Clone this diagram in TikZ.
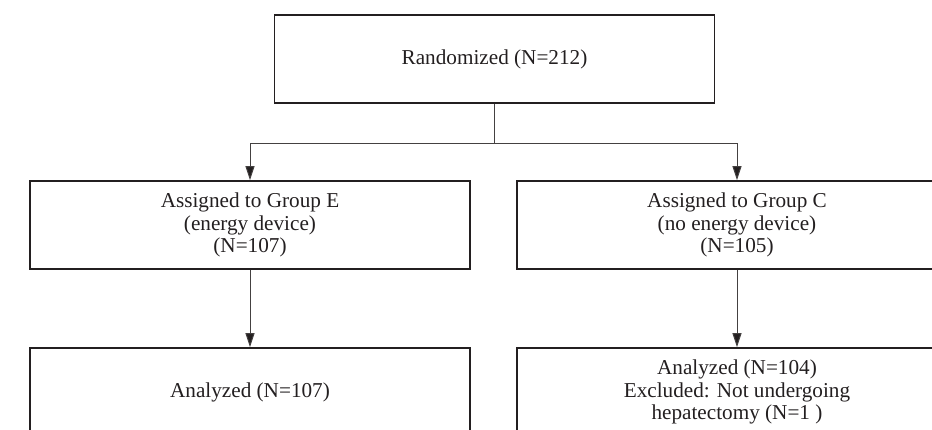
\documentclass[tikz,border=0pt]{standalone}
\usepackage{fontspec}
\setmainfont{Liberation Serif}
\usetikzlibrary{arrows.meta}
\definecolor{ink}{HTML}{231F20}
\begin{document}
\begin{tikzpicture}[x=1pt,y=-1pt,
  box/.style={draw=ink,line width=1.5pt,minimum width=440pt,minimum height=88pt,inner sep=0pt,align=center,
    font=\fontsize{21.2}{22.8}\selectfont,text=ink},
  conn/.style={draw=ink!85,line width=1pt},
  arr/.style={conn,-{Triangle[length=14pt,width=9pt,fill=ink]}}]
\useasboundingbox (0,0) rectangle (932,430);
\clip (0,0) rectangle (932,430);
\node[box] (rand) at (494.5,59) {Randomized (N=212)};
\node[box] (ge) at (250,225) {Assigned to Group E\\(energy device)\\(N=107)};
\node[box] (gc) at (737,225) {Assigned to Group C\\(no energy device)\\(N=105)};
\node[box] (ae) at (250,392) {Analyzed (N=107)};
\node[box] (ac) at (737,392) {Analyzed (N=104)\\Excluded: Not undergoing\\hepatectomy (N=1 )};
\coordinate (j) at (494.5,144);
\draw[conn] (rand.south) -- (j);
\draw[arr] (j) -| (ge.north);
\draw[arr] (j) -| (gc.north);
\draw[arr] (ge.south) -- (ae.north);
\draw[arr] (gc.south) -- (ac.north);
\end{tikzpicture}
\end{document}
